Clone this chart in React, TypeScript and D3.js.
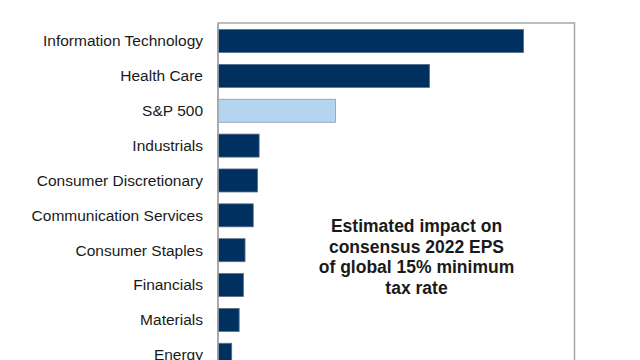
import React from "react";
import * as d3 from "d3";

const categories = [
  "Information Technology",
  "Health Care",
  "S&P 500",
  "Industrials",
  "Consumer Discretionary",
  "Communication Services",
  "Consumer Staples",
  "Financials",
  "Materials",
  "Energy",
];
const values = [7.8, 5.4, 3.0, 1.05, 1.01, 0.9, 0.69, 0.65, 0.54, 0.35];
const highlight = ["S&P 500"];
const annotationLines = [
  "Estimated impact on",
  "consensus 2022 EPS",
  "of global 15% minimum",
  "tax rate",
];

export default function App() {
  const W = 640;
  const H = 360;
  const left = 218;
  const right = 574.5;
  const top = 23;
  const x = d3.scaleLinear().domain([0, 9.1]).range([left, right]);
  const y = d3
    .scaleBand<string>()
    .domain(categories)
    .range([23.6, 23.6 + 34.86 * categories.length])
    .paddingInner(0.34)
    .paddingOuter(0.17);

  return (
    <svg
      width={W}
      height={H}
      style={{ position: "absolute", top: 0, left: 0, background: "#fff" }}
      fontFamily="'Liberation Sans', Arial, sans-serif"
    >
      <rect x={left} y={top} width={right - left} height={H + 20} fill="#fff" stroke="#a6a6a6" strokeWidth={1.5} />
      {categories.map((c, i) => {
        const isH = highlight.includes(c);
        return (
          <g key={c}>
            <rect
              x={x(0)}
              y={y(c)}
              width={x(values[i]) - x(0)}
              height={y.bandwidth()}
              fill={isH ? "#b4d5f0" : "#00305f"}
              stroke={isH ? "#8a9bb0" : "#5a6f88"}
              strokeWidth={0.8}
            />
            <text
              x={203}
              y={(y(c) as number) + y.bandwidth() / 2}
              dy="0.35em"
              textAnchor="end"
              fontSize={15.5}
              fill="#1a1a1a"
            >
              {c}
            </text>
          </g>
        );
      })}
      <line x1={left} x2={left} y1={top} y2={H} stroke="#a6a6a6" strokeWidth={1.5} />
      <text textAnchor="middle" fontSize={17.5} fontWeight="bold" fill="#1a1a1a">
        {annotationLines.map((l, i) => (
          <tspan key={i} x={416.5} y={232 + i * 20.6}>
            {l}
          </tspan>
        ))}
      </text>
    </svg>
  );
}
